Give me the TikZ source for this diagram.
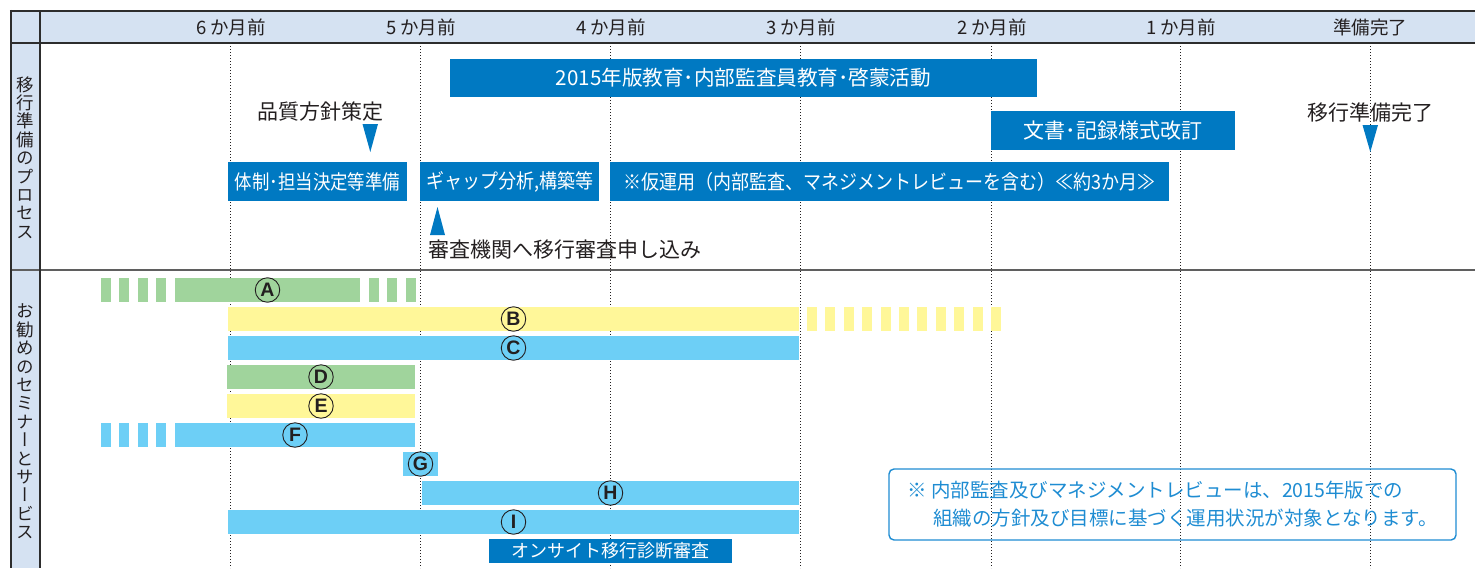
\documentclass[tikz,border=0pt]{standalone}
\usepackage{fontspec}
\usepackage{graphicx}
\setmainfont{Noto Sans CJK JP}
\newfontfamily\jp{Noto Sans CJK JP}
\newfontfamily\jpv[RawFeature=+vert]{Noto Sans CJK JP}
\newfontfamily\jpc[FakeStretch=0.9]{Noto Sans CJK JP}
\newfontfamily\jpcc[FakeStretch=0.87]{Noto Sans CJK JP}
\newfontfamily\letf{Liberation Sans Bold}
\definecolor{hdrbg}{RGB}{213,226,242}
\definecolor{pblue}{RGB}{0,121,194}
\definecolor{bgreen}{RGB}{160,212,156}
\definecolor{byellow}{RGB}{255,247,153}
\definecolor{bcyan}{RGB}{109,207,246}
\definecolor{notec}{RGB}{30,140,210}
\definecolor{ink}{RGB}{35,31,32}
\definecolor{framec}{RGB}{45,45,45}
\definecolor{divg}{RGB}{95,95,95}
\begin{document}
\begin{tikzpicture}[x=1pt,y=-1pt,
  hdr/.style={font=\jp\fontsize{18.5}{20}\selectfont, text=ink, inner sep=0},
  vtxt/.style={font=\jpv\fontsize{17.5}{18.4}\selectfont, text=ink, align=center, inner sep=0},
  procbox/.style={fill=pblue, text=white, inner sep=0, outer sep=0, anchor=north west, minimum height=39},
  lbl/.style={font=\jp\fontsize{21}{24}\selectfont, text=ink, inner sep=0},
  ganttbar/.style={fill=#1, inner sep=0, outer sep=0, anchor=north west, minimum height=24},
  circ/.style={circle, draw=ink, line width=0.9pt, minimum size=24.5, inner sep=0, font=\letf\fontsize{19.5}{19.5}\selectfont, text=ink},
  notebox/.style={draw=notec, line width=1.4pt, rounded corners=5pt, text=notec, font=\jp\fontsize{19.5}{28}\selectfont, align=left, inner sep=0},
  dotline/.style={line width=0.9pt, dash pattern=on 0.9pt off 2.1pt, draw=ink},
  tri/.style={fill=pblue}
]
\useasboundingbox (0,0) rectangle (1475,568);
% backgrounds
\fill[hdrbg] (11,11) rectangle (1475,43);
\fill[hdrbg] (11,43) rectangle (40,568);
% month grid
\foreach \n/\x in {m6/230,m5/420,m4/610,m3/800,m2/991,m1/1180,m0/1370}{
  \coordinate (\n) at (\x,43);
  \draw[dotline] (\n) -- (\n |- 0,568);
}
% header labels
\node[hdr] (h6) at (231,27.5) {6 か月前};
\node[hdr] (h5) at (421,27.5) {5 か月前};
\node[hdr] (h4) at (611,27.5) {4 か月前};
\node[hdr] (h3) at (801,27.5) {3 か月前};
\node[hdr] (h2) at (992,27.5) {2 か月前};
\node[hdr] (h1) at (1181,27.5) {1 か月前};
\node[hdr] (h0) at (1370,27.5) {準備完了};
% left column labels
\node[vtxt] (sec1) at (25.5,157.5) {移\\行\\準\\備\\の\\プ\\ロ\\セ\\ス};
\node[vtxt] (sec2) at (25.5,421.5) {お\\勧\\め\\の\\セ\\ミ\\ナ\\ー\\と\\サ\\ー\\ビ\\ス};
% process section
\node[procbox, minimum width=587, minimum height=38, font=\jp\fontsize{20.6}{22}\selectfont] (edu) at (450,59) {2015年版教育･内部監査員教育･啓蒙活動};
\node[procbox, minimum width=244, font=\jp\fontsize{21}{22}\selectfont] (doc) at (991,111) {文書･記録様式改訂};
\node[procbox, minimum width=179, font=\jpcc\fontsize{20}{22}\selectfont] (p1) at (228,162) {体制･担当決定等準備};
\node[procbox, minimum width=179, font=\jpc\fontsize{20}{22}\selectfont] (p2) at (420,162) {ギャップ分析,構築等};
\node[procbox, minimum width=559, font=\jpc\fontsize{20}{22}\selectfont] (p3) at (610,162) {※仮運用（内部監査、マネジメントレビューを含む）≪約3か月≫};
\node[lbl] (qp) at (320,112) {品質方針策定};
\node[lbl] (done) at (1370,112) {移行準備完了};
\node[lbl, anchor=west] (apply) at (428,250) {審査機関へ移行審査申し込み};
\fill[tri] (362.5,124) -- (378,124) -- (370.3,152) -- cycle;
\fill[tri] (1362.5,125) -- (1378,125) -- (1370.3,152) -- cycle;
\fill[tri] (437.5,207) -- (445,235) -- (430,235) -- cycle;
% seminars
\foreach \x in {101,119,138,156}{
  \fill[bgreen] (\x,278) rectangle ++(10,24);
  \fill[bcyan] (\x,423) rectangle ++(10,24);
}
\foreach \x in {369,387,406}{\fill[bgreen] (\x,278) rectangle ++(10,24);}
\foreach \k in {0,...,10}{\fill[byellow] (807+18.4*\k,307) rectangle ++(10,24);}
\node[ganttbar=bgreen, minimum width=185] (bA) at (175,278) {};
\node[ganttbar=byellow, minimum width=571] (bB) at (228,307) {};
\node[ganttbar=bcyan, minimum width=571] (bC) at (228,336) {};
\node[ganttbar=bgreen, minimum width=188] (bD) at (227,365) {};
\node[ganttbar=byellow, minimum width=188] (bE) at (227,394) {};
\node[ganttbar=bcyan, minimum width=240] (bF) at (175,423) {};
\node[ganttbar=bcyan, minimum width=35] (bG) at (403,452) {};
\node[ganttbar=bcyan, minimum width=377] (bH) at (422,481) {};
\node[ganttbar=bcyan, minimum width=571] (bI) at (228,510) {};
\foreach \b/\l in {A,B,C,D,E,F,G,H,I}{\node[circ] (c\l) at (b\b.center) {\l};}
\node[procbox, minimum width=243, minimum height=24, font=\jp\fontsize{18}{20}\selectfont] (onsite) at (489,539) {オンサイト移行診断審査};
% note
\node[notebox, minimum width=567, minimum height=71] (note) at (1172.5,504.5) {※ 内部監査及びマネジメントレビューは、2015年版での\\\hspace*{26pt}組織の方針及び目標に基づく運用状況が対象となります。};
% frame
\draw[line width=1.6pt, framec] (11,43) -- (1475,43);
\draw[line width=2pt, divg] (11,270) -- (1475,270);
\draw[line width=1.5pt, framec] (40,11) -- (40,568);
\draw[line width=2.5pt, framec] (9.75,11) -- (1475,11);
\draw[line width=2.5pt, framec] (11,9.75) -- (11,568);
\end{tikzpicture}
\end{document}
